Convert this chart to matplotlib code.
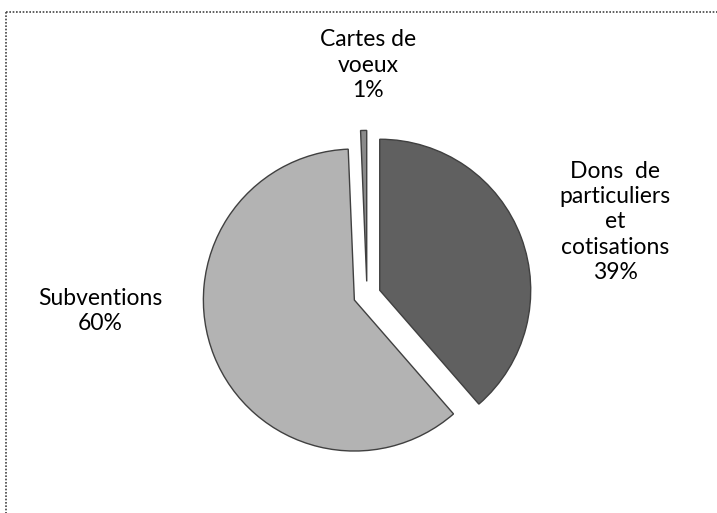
import numpy as np
import matplotlib.pyplot as plt
from matplotlib.lines import Line2D

# data
labels = ["Dons  de\nparticuliers\net\ncotisations", "Subventions", "Cartes de\nvoeux"]
values = [38.6, 60.75, 0.65]
shown_pct = ["39%", "60%", "1%"]
colors = ["#606060", "#b3b3b3", "#8a8a8a"]

W, H = 717, 513
cx, cy, R = 367, 295, 151   # pie centre / radius in pixels

fig = plt.figure(figsize=(W / 100, H / 100), dpi=100)
ax = fig.add_axes([0, 0, 1, 1])

ax.pie(values, colors=colors, startangle=90, counterclock=False,
       explode=[0.09, 0.09, 0.09], radius=1.0,
       wedgeprops=dict(edgecolor="#404040", linewidth=1.0))

# pie() resets the limits, so set them afterwards
ax.set_aspect("auto")
ax.set_xlim(-cx / R, (W - cx) / R)
ax.set_ylim(-(H - cy) / R, cy / R)
ax.axis("off")

font = dict(family="Lato", fontsize=16.5, color="black", ha="center", va="center",
            linespacing=1.25)
# label positions (pixel -> data)
pos = [(615, 222), (100, 311), (368, 65)]
for lab, pct, (px, py) in zip(labels, shown_pct, pos):
    ax.text((px - cx) / R, (cy - py) / R, lab + "\n" + pct, **font)

# dotted chart border (only top and left visible)
fig.add_artist(Line2D([6 / W, 1], [1 - 12 / H, 1 - 12 / H], transform=fig.transFigure,
                      color="#444444", linestyle=(0, (1, 1)), linewidth=1.2))
fig.add_artist(Line2D([6 / W, 6 / W], [1 - 12 / H, 0], transform=fig.transFigure,
                      color="#444444", linestyle=(0, (1, 1)), linewidth=1.2))

fig.savefig("out.png", dpi=100)
